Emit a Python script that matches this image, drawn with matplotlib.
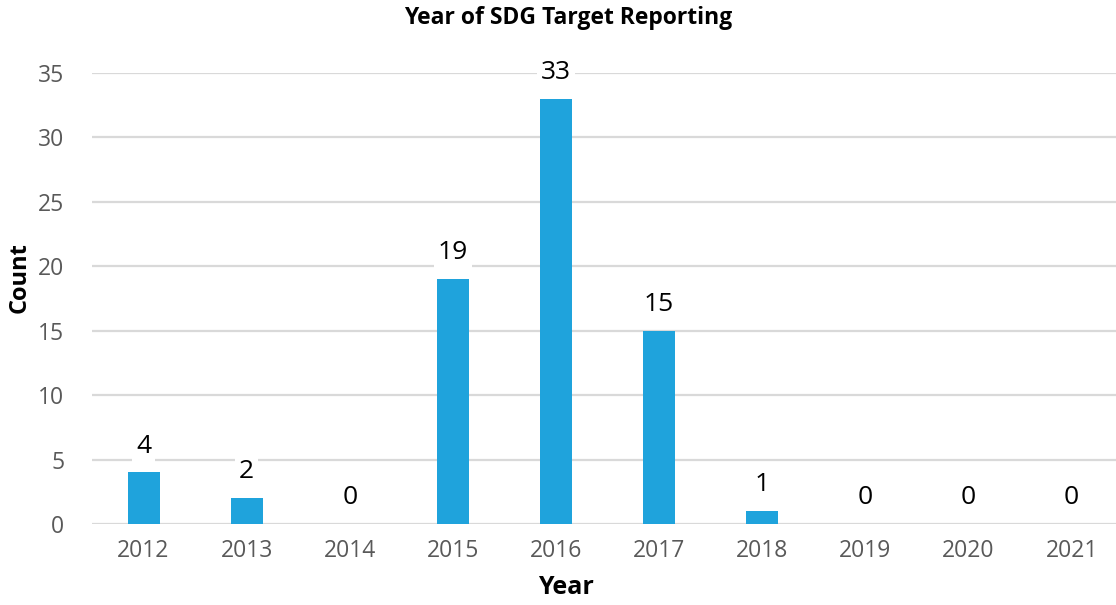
import matplotlib
matplotlib.use("Agg")
from matplotlib import pyplot as plt
import numpy as np

years = ["2012", "2013", "2014", "2015", "2016", "2017", "2018", "2019", "2020", "2021"]
counts = [4, 2, 0, 19, 33, 15, 1, 0, 0, 0]

plt.rcParams['font.family'] = ['Open Sans', 'DejaVu Sans']

fig = plt.figure(figsize=(11.16, 6.05), dpi=100)
ax = fig.add_axes([92 / 1116, 1 - 524 / 605, 1 - 92 / 1116, (524 - 73) / 605])

x = np.arange(len(years))
bars = ax.bar(x, counts, width=0.31, color="#1FA3DC", zorder=3)

# value labels with white boxes so the gridlines break behind them
for rect, val in zip(bars, counts):
    ax.annotate(str(val), (rect.get_x() + rect.get_width() / 2, rect.get_height()),
                xytext=(0, 10), textcoords="offset points", ha="center", va="bottom",
                fontsize=19, color="black", zorder=4, annotation_clip=False,
                bbox=dict(facecolor="white", edgecolor="none", pad=3))

ax.set_xlim(-0.5, 9.43)
ax.set_ylim(0, 35)
ax.set_yticks(np.arange(0, 36, 5))
ax.set_xticks(x)
ax.set_xticklabels(years)
ax.grid(axis="y", color="#D9D9D9", linewidth=1.6, zorder=0)
for s in ax.spines.values():
    s.set_visible(False)
ax.tick_params(length=0, labelsize=16.5, labelcolor="#595959")
ax.tick_params(axis="x", pad=11)
ax.tick_params(axis="y", pad=20)

fig.text(568 / 1116, 1 - 18 / 605, "Year of SDG Target Reporting", ha="center", va="center",
         fontsize=16.5, fontweight="bold")
fig.text(566 / 1116, 1 - 588 / 605, "Year", ha="center", va="center", fontsize=18, fontweight="bold")
fig.text(20 / 1116, 1 - 278 / 605, "Count", ha="center", va="center", rotation=90,
         fontsize=17, fontweight="bold")

fig.savefig("out.png", dpi=100)
